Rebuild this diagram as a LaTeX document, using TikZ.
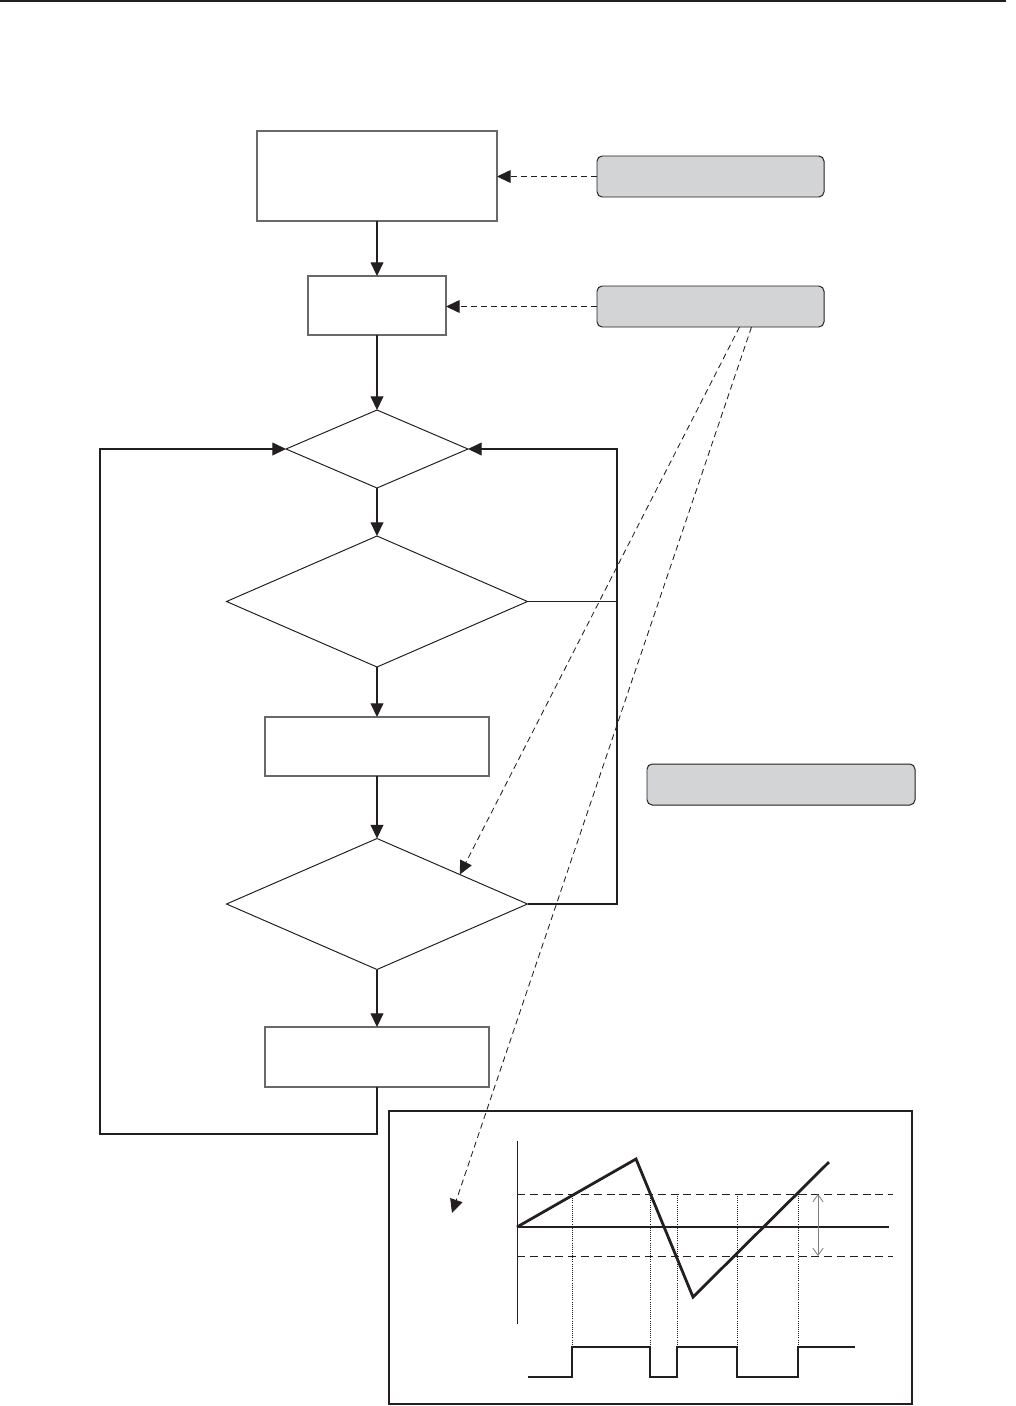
\documentclass[tikz,border=0pt]{standalone}
\usetikzlibrary{shapes.geometric,arrows.meta,calc}
\definecolor{boxgray}{RGB}{211,212,214}
\definecolor{ink}{RGB}{35,31,32}
\definecolor{edgegray}{RGB}{105,105,105}

\begin{document}
\begin{tikzpicture}[
    x=0.25mm, y=-0.25mm,
    proc/.style={rectangle, draw=edgegray, line width=0.9pt, inner sep=0pt, outer sep=0pt},
    cond/.style={diamond, draw=ink, line width=0.7pt, inner sep=0pt, outer sep=0pt},
    note/.style={rectangle, rounded corners=1.3mm, fill=boxgray, draw=ink, line width=0.7pt, inner sep=0pt, outer sep=0pt, minimum height=10.25mm},
    arr/.style={-{Triangle[length=3.4mm,width=3.2mm]}, line width=0.8pt, ink},
    darr/.style={arr, line width=0.6pt, dash pattern=on 1.5mm off 1mm},
    wire/.style={line width=0.8pt, ink},
    thr/.style={line width=0.6pt, ink, dash pattern=on 2mm off 1.2mm},
    guide/.style={line width=0.5pt, ink, densely dotted},
    trace/.style={line width=2pt, ink, line join=miter},
    pulse/.style={line width=0.8pt, ink},
]
\useasboundingbox (0,0) rectangle (1016,1406);

% ── Page rule ──
\draw[line width=1.2pt, ink] (0,1) -- (1006,1);

% ── Flow chart ──
\node[proc, minimum width=60mm, minimum height=22.5mm] (init) at (377,176) {};
\node[proc, minimum width=34.5mm, minimum height=14.75mm] (setup) at (377,305.5) {};
\node[cond, minimum width=45.5mm, minimum height=19.5mm] (wait) at (377,449) {};
\node[cond, minimum width=75.25mm, minimum height=32.75mm] (chk1) at (377,601.5) {};
\node[proc, minimum width=56mm, minimum height=14.75mm] (act1) at (377,746.5) {};
\node[cond, minimum width=75.25mm, minimum height=32.75mm] (chk2) at (377,904) {};
\node[proc, minimum width=56mm, minimum height=15mm] (act2) at (377,1057) {};

% ── Side notes ──
\node[note, minimum width=56.75mm] (note1) at (710.5,176.5) {};
\node[note, minimum width=56.75mm] (note2) at (710.5,306.5) {};
\node[note, minimum width=67mm] (note3) at (781,784.5) {};

% ── Main path ──
\draw[arr] (init) -- (setup);
\draw[arr] (setup) -- (wait);
\draw[arr] (wait) -- (chk1);
\draw[arr] (chk1) -- (act1);
\draw[arr] (act1) -- (chk2);
\draw[arr] (chk2) -- (act2);

% ── Loops back ──
\coordinate (lb) at (100,1134);
\coordinate (rt) at (617,449);
\draw[arr] (act2.south) |- (lb) |- (wait.west);
\draw[wire] (chk1.east) -| (rt);
\draw[arr] (chk2.east) -| (rt) -- (wait.east);

% ── Dashed references ──
\draw[darr] (note1.west) -- (init.east |- note1.west);
\draw[darr] (note2.west) -- (setup.east |- note2.west);
\coordinate (hit) at ($(chk2.north)!0.55!(chk2.east)$);
\coordinate (wv) at (452,1213);
\draw[darr] ([xshift=7.25mm]note2.south) -- (hit);
\draw[darr] ([xshift=10.25mm]note2.south) -- (wv);

% ── Waveform panel ──
\draw[line width=0.8pt, ink] (389,1111) rectangle (912,1404);
\draw[line width=0.7pt, ink] (517,1141) -- (517,1324);
\draw[thr] (517,1194) -- (893,1194);
\draw[thr] (517,1256) -- (893,1256);
\draw[line width=1.6pt, ink] (517,1227) -- (889,1227);
\draw[trace] (517,1227) -- (636,1159) -- (693,1297) -- (829,1162);
\draw[line width=0.6pt, gray, {Straight Barb[length=1.8mm,width=2.6mm]}-{Straight Barb[length=1.8mm,width=2.6mm]}] (818,1194) -- (818,1256);
\foreach \xx in {572,650,677,737,798}
  \draw[guide] (\xx,1194) -- (\xx,1347);
\draw[pulse] (528,1377) -- (572,1377) -- (572,1347) -- (650,1347) -- (650,1377)
  -- (677,1377) -- (677,1347) -- (737,1347) -- (737,1377) -- (798,1377)
  -- (798,1347) -- (855,1347);

\end{tikzpicture}
\end{document}
